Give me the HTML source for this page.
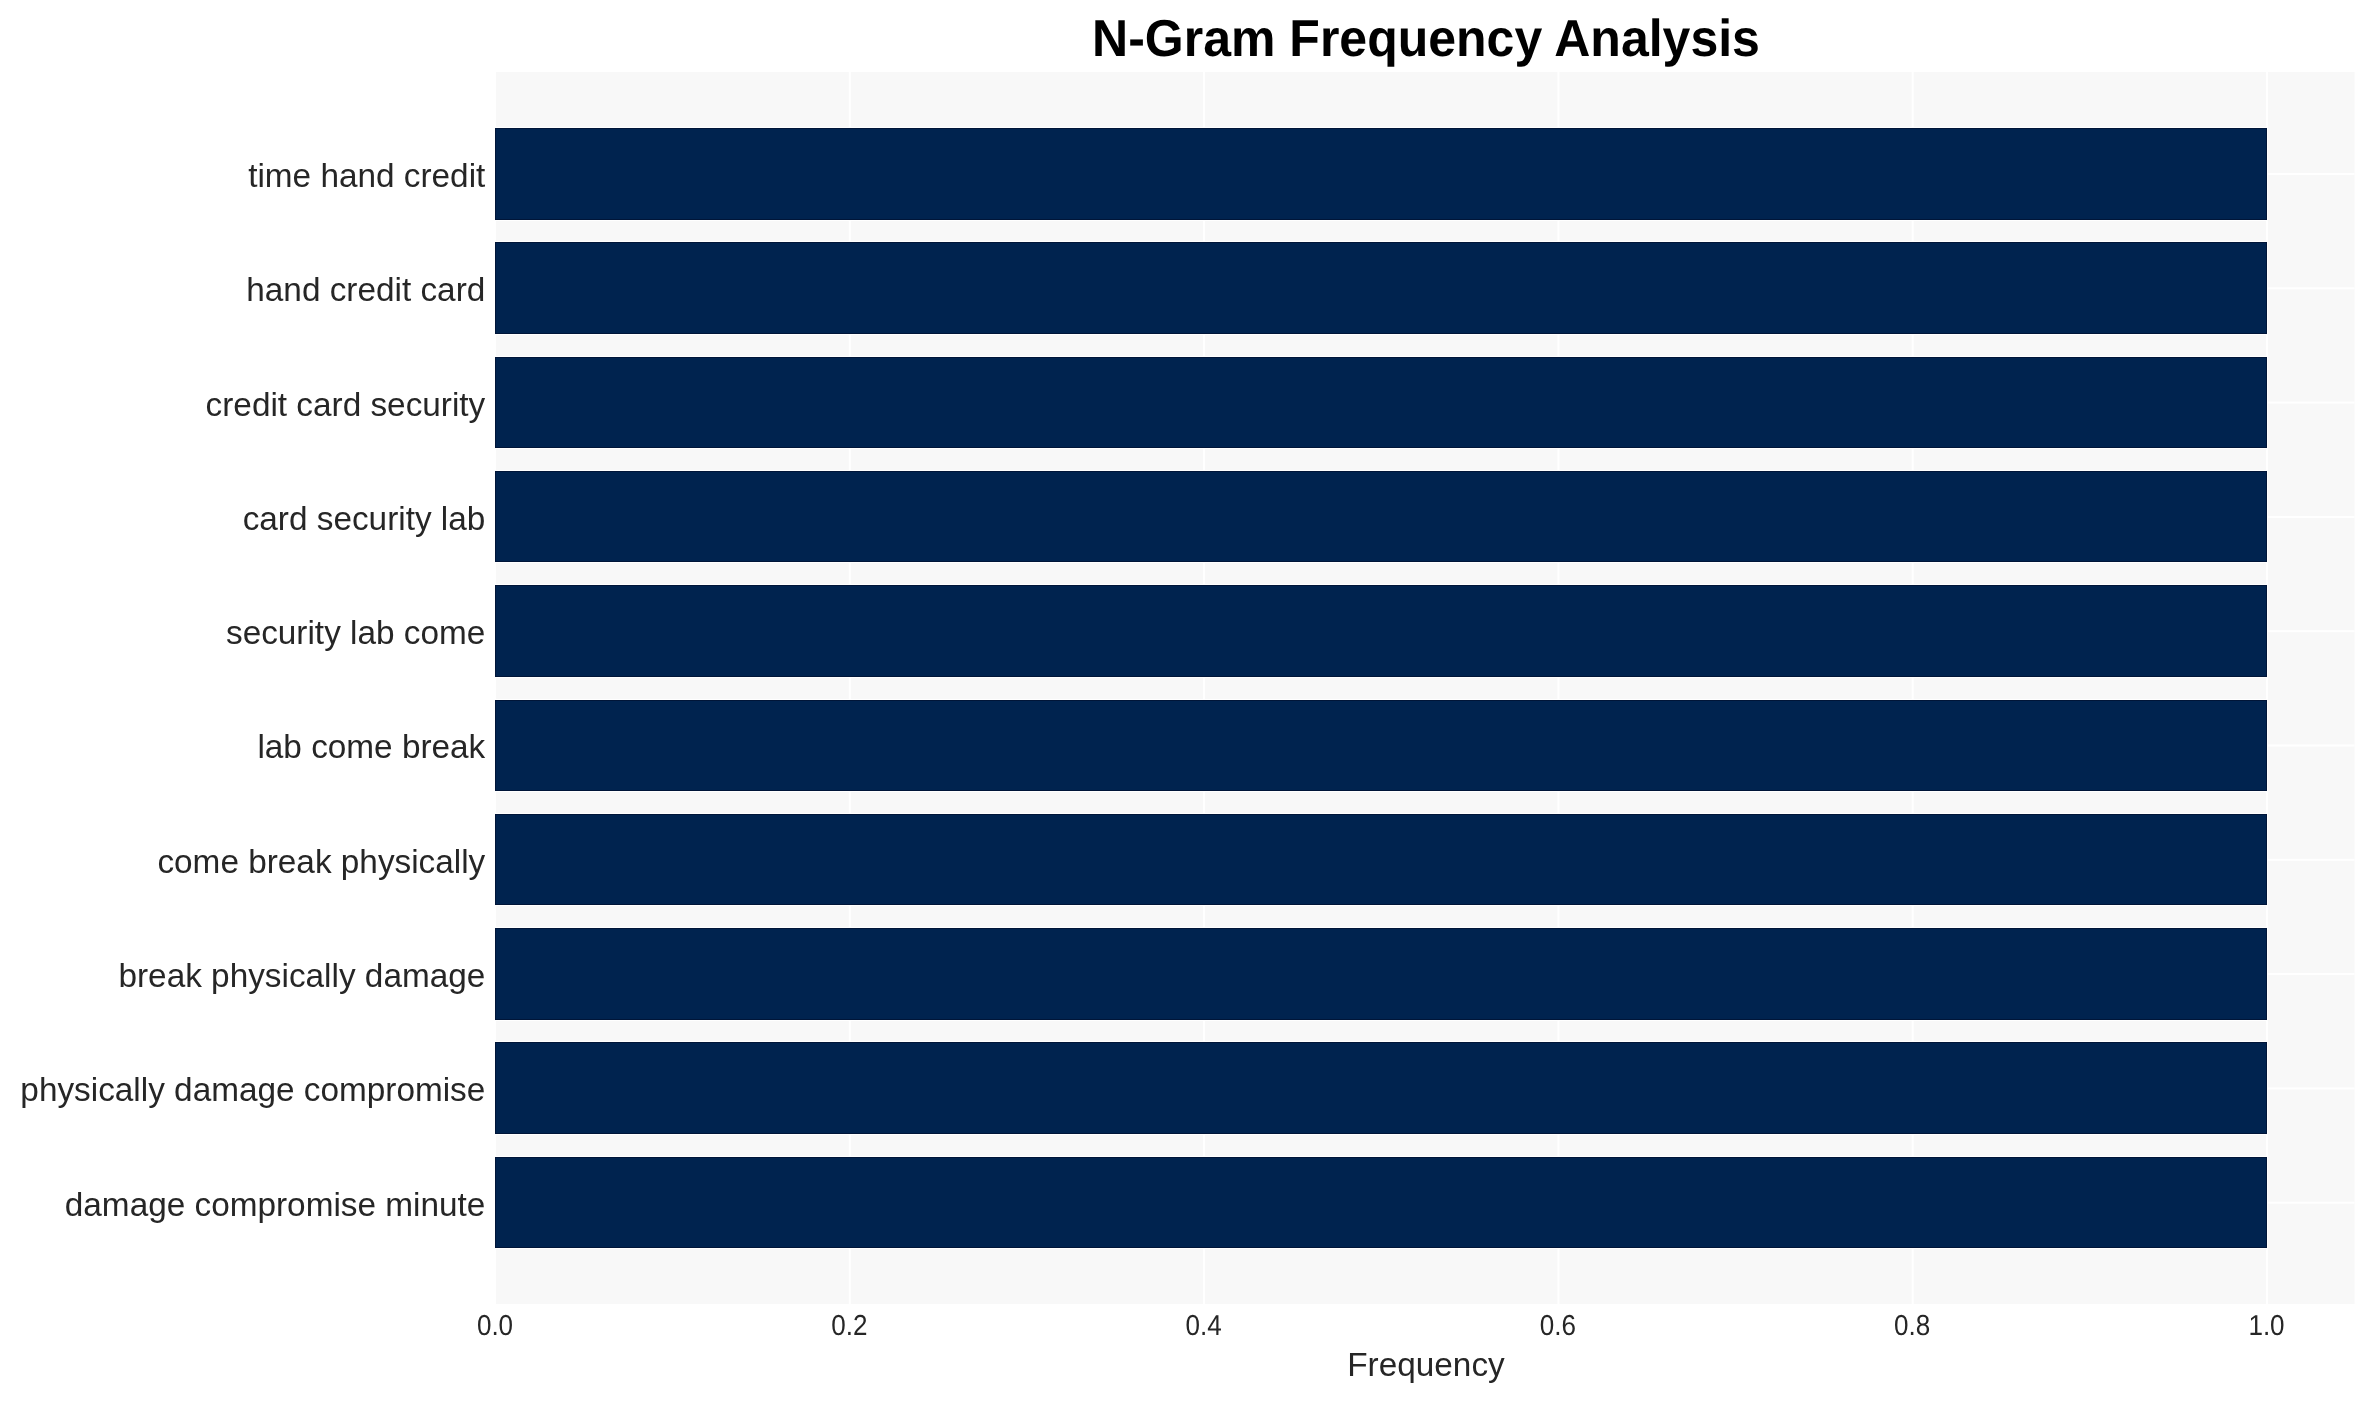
<!DOCTYPE html>
<html><head><meta charset="utf-8"><style>
html,body{margin:0;padding:0;background:#fff;width:2375px;height:1402px;overflow:hidden}
svg{display:block;will-change:transform}
text{font-family:"Liberation Sans",sans-serif}
.yl{font-size:33.33px;fill:#262626}
.xt{font-size:27px;fill:#262626;text-rendering:geometricPrecision}
.xl{font-size:33.33px;fill:#262626}
.tt{font-size:50px;font-weight:bold;fill:#000;text-rendering:geometricPrecision}
</style></head><body>
<svg width="2375" height="1402" viewBox="0 0 2375 1402">
<rect x="496" y="72" width="1858.5" height="1232" fill="#f8f8f8"/>
<rect x="848.80" y="72" width="2" height="1232" fill="#ffffff"/>
<rect x="1203.10" y="72" width="2" height="1232" fill="#ffffff"/>
<rect x="1557.40" y="72" width="2" height="1232" fill="#ffffff"/>
<rect x="1911.70" y="72" width="2" height="1232" fill="#ffffff"/>
<rect x="2266.00" y="72" width="2" height="1232" fill="#ffffff"/>
<rect x="496" y="173.00" width="1858.5" height="2" fill="#ffffff"/>
<rect x="496" y="287.30" width="1858.5" height="2" fill="#ffffff"/>
<rect x="496" y="401.60" width="1858.5" height="2" fill="#ffffff"/>
<rect x="496" y="515.90" width="1858.5" height="2" fill="#ffffff"/>
<rect x="496" y="630.20" width="1858.5" height="2" fill="#ffffff"/>
<rect x="496" y="744.50" width="1858.5" height="2" fill="#ffffff"/>
<rect x="496" y="858.80" width="1858.5" height="2" fill="#ffffff"/>
<rect x="496" y="973.10" width="1858.5" height="2" fill="#ffffff"/>
<rect x="496" y="1087.40" width="1858.5" height="2" fill="#ffffff"/>
<rect x="496" y="1201.70" width="1858.5" height="2" fill="#ffffff"/>
<rect x="494.0" y="127" width="1774.0" height="94" fill="#ffffff"/>
<rect x="495.0" y="128" width="1772.0" height="92" fill="#001538"/>
<rect x="496.0" y="129" width="1770.0" height="90" fill="#00234f"/>
<rect x="494.0" y="241" width="1774.0" height="94" fill="#ffffff"/>
<rect x="495.0" y="242" width="1772.0" height="92" fill="#001538"/>
<rect x="496.0" y="243" width="1770.0" height="90" fill="#00234f"/>
<rect x="494.0" y="356" width="1774.0" height="93" fill="#ffffff"/>
<rect x="495.0" y="357" width="1772.0" height="91" fill="#001538"/>
<rect x="496.0" y="358" width="1770.0" height="89" fill="#00234f"/>
<rect x="494.0" y="470" width="1774.0" height="93" fill="#ffffff"/>
<rect x="495.0" y="471" width="1772.0" height="91" fill="#001538"/>
<rect x="496.0" y="472" width="1770.0" height="89" fill="#00234f"/>
<rect x="494.0" y="584" width="1774.0" height="94" fill="#ffffff"/>
<rect x="495.0" y="585" width="1772.0" height="92" fill="#001538"/>
<rect x="496.0" y="586" width="1770.0" height="90" fill="#00234f"/>
<rect x="494.0" y="699" width="1774.0" height="93" fill="#ffffff"/>
<rect x="495.0" y="700" width="1772.0" height="91" fill="#001538"/>
<rect x="496.0" y="701" width="1770.0" height="89" fill="#00234f"/>
<rect x="494.0" y="813" width="1774.0" height="93" fill="#ffffff"/>
<rect x="495.0" y="814" width="1772.0" height="91" fill="#001538"/>
<rect x="496.0" y="815" width="1770.0" height="89" fill="#00234f"/>
<rect x="494.0" y="927" width="1774.0" height="94" fill="#ffffff"/>
<rect x="495.0" y="928" width="1772.0" height="92" fill="#001538"/>
<rect x="496.0" y="929" width="1770.0" height="90" fill="#00234f"/>
<rect x="494.0" y="1041" width="1774.0" height="94" fill="#ffffff"/>
<rect x="495.0" y="1042" width="1772.0" height="92" fill="#001538"/>
<rect x="496.0" y="1043" width="1770.0" height="90" fill="#00234f"/>
<rect x="494.0" y="1156" width="1774.0" height="93" fill="#ffffff"/>
<rect x="495.0" y="1157" width="1772.0" height="91" fill="#001538"/>
<rect x="496.0" y="1158" width="1770.0" height="89" fill="#00234f"/>
<text x="485.3" y="186.90" text-anchor="end" class="yl">time hand credit</text>
<text x="485.3" y="301.20" text-anchor="end" class="yl">hand credit card</text>
<text x="485.3" y="415.50" text-anchor="end" class="yl">credit card security</text>
<text x="485.3" y="529.80" text-anchor="end" class="yl">card security lab</text>
<text x="485.3" y="644.10" text-anchor="end" class="yl">security lab come</text>
<text x="485.3" y="758.40" text-anchor="end" class="yl">lab come break</text>
<text x="485.3" y="872.70" text-anchor="end" class="yl">come break physically</text>
<text x="485.3" y="987.00" text-anchor="end" class="yl">break physically damage</text>
<text x="485.3" y="1101.30" text-anchor="end" class="yl">physically damage compromise</text>
<text x="485.3" y="1215.60" text-anchor="end" class="yl">damage compromise minute</text>
<text transform="translate(495.00 1334.6) scale(0.965 1.07)" text-anchor="middle" class="xt">0.0</text>
<text transform="translate(849.30 1334.6) scale(0.965 1.07)" text-anchor="middle" class="xt">0.2</text>
<text transform="translate(1203.60 1334.6) scale(0.965 1.07)" text-anchor="middle" class="xt">0.4</text>
<text transform="translate(1557.90 1334.6) scale(0.965 1.07)" text-anchor="middle" class="xt">0.6</text>
<text transform="translate(1912.20 1334.6) scale(0.965 1.07)" text-anchor="middle" class="xt">0.8</text>
<text transform="translate(2266.50 1334.6) scale(0.965 1.07)" text-anchor="middle" class="xt">1.0</text>
<text x="1426" y="1376" text-anchor="middle" class="xl">Frequency</text>
<text transform="translate(1426 55.6) scale(1 1.041)" text-anchor="middle" class="tt">N-Gram Frequency Analysis</text>
</svg>
</body></html>
